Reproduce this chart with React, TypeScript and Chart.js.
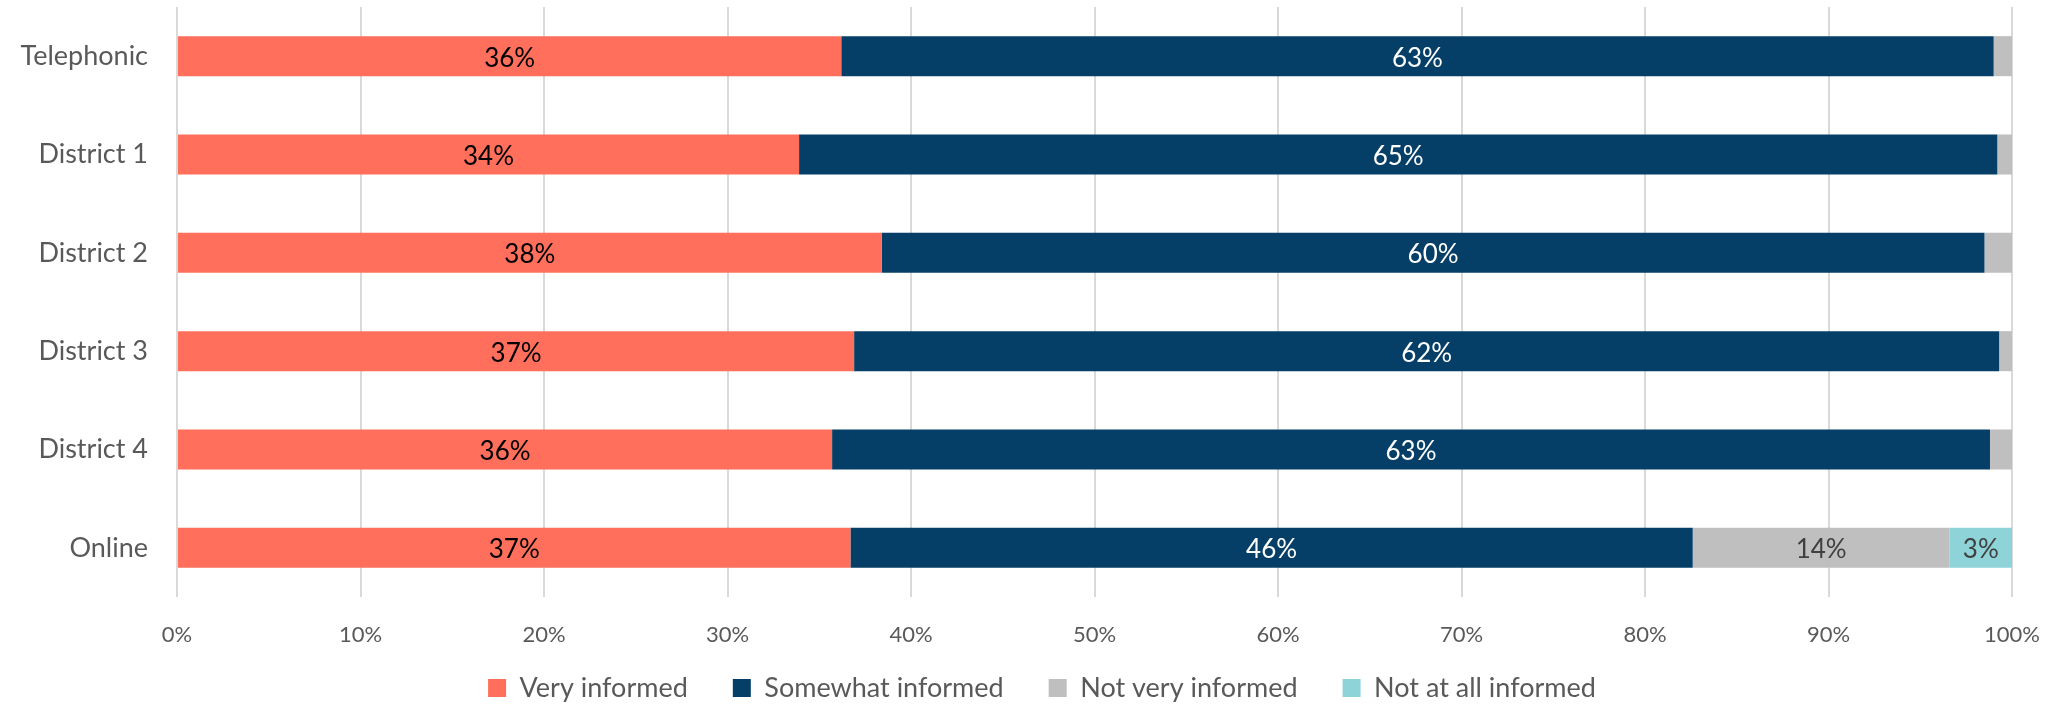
import React, { useEffect, useRef } from "react";
import { Chart, registerables } from "chart.js";

Chart.register(...registerables);

const categories = ["Telephonic", "District 1", "District 2", "District 3", "District 4", "Online"];
const seriesNames = ["Very informed", "Somewhat informed", "Not very informed", "Not at all informed"];
const veryInformed = [36.2, 33.9, 38.4, 36.9, 35.7, 36.7];
const somewhatInformed = [62.8, 65.3, 60.1, 62.4, 63.1, 45.9];
const notVeryInformed = [1.0, 0.8, 1.5, 0.7, 1.2, 14.0];
const notAtAllInformed = [0, 0, 0, 0, 0, 3.4];
const xTicks = [0, 10, 20, 30, 40, 50, 60, 70, 80, 90, 100];

const colors = ["#FF6F5B", "#053F67", "#BFBFBF", "#8DD3D8"];
const labelColors = ["#000000", "#FFFFFF", "#404040", "#404040"];
const FONT = "Lato, 'Open Sans', sans-serif";
const LEGEND_PAD = 45;
const LEGEND_FONT = 27;

const segLabels = {
  id: "segLabels",
  afterDatasetsDraw(chart: any) {
    const ctx = chart.ctx;
    chart.data.datasets.forEach((ds: any, di: number) => {
      const meta = chart.getDatasetMeta(di);
      if (meta.hidden) return;
      meta.data.forEach((bar: any, i: number) => {
        const v = ds.data[i];
        if (v < 2) return;
        const p = bar.getProps(["x", "y", "base"], true);
        ctx.save();
        ctx.font = `26px ${FONT}`;
        ctx.fillStyle = labelColors[di];
        ctx.textAlign = "center";
        ctx.textBaseline = "middle";
        ctx.fillText(Math.round(v) + "%", (p.x + p.base) / 2, p.y + 2);
        ctx.restore();
      });
    });
  },
};

// place legend row: centred under the full figure, 91px below the plot area
const legendPlace = {
  id: "legendPlace",
  afterLayout(chart: any) {
    const lg = chart.legend;
    if (!lg) return;
    lg.left += 36;
    lg.right += 36;
    const itemH = LEGEND_FONT;
    lg.top = chart.chartArea.bottom + 91 - itemH / 2 - LEGEND_PAD;
    lg.bottom = chart.height;
    lg.height = lg.bottom - lg.top;
  },
};

export default function App() {
  const ref = useRef<HTMLCanvasElement | null>(null);
  useEffect(() => {
    document.body.style.margin = "0";
    const chart = new Chart(ref.current as HTMLCanvasElement, {
      type: "bar",
      data: {
        labels: categories,
        datasets: [veryInformed, somewhatInformed, notVeryInformed, notAtAllInformed].map((d, i) => ({
          label: seriesNames[i],
          data: d,
          backgroundColor: colors[i],
          borderWidth: 0,
          barPercentage: 0.407,
          categoryPercentage: 1,
        })),
      },
      options: {
        indexAxis: "y",
        animation: false,
        responsive: true,
        maintainAspectRatio: false,
        layout: { padding: { top: 7, right: 47, left: 0, bottom: 0 } },
        plugins: {
          tooltip: { enabled: false },
          legend: {
            position: "bottom",
            maxHeight: 50,
            labels: {
              boxWidth: 18,
              boxHeight: 18,
              padding: LEGEND_PAD,
              color: "#595959",
              font: { family: FONT, size: LEGEND_FONT },
            },
          },
        },
        scales: {
          x: {
            stacked: true,
            min: 0,
            max: 100,
            afterBuildTicks: (scale: any) => {
              scale.ticks = xTicks.map((v) => ({ value: v }));
            },
            afterFit: (scale: any) => {
              scale.height = 60;
              scale.paddingLeft = 0;
              scale.paddingRight = 0;
            },
            ticks: {
              padding: 25,
              color: "#595959",
              font: { family: FONT, size: 22 },
              callback: (v: any) => v + "%",
            },
            grid: { color: "#D9D9D9", lineWidth: 2, drawTicks: false },
            border: { display: false },
          },
          y: {
            stacked: true,
            afterFit: (scale: any) => {
              scale.width = 177;
              scale.paddingTop = 0;
              scale.paddingBottom = 0;
            },
            ticks: {
              padding: 0,
              color: "#595959",
              font: { family: FONT, size: 27 },
            },
            grid: {
              display: true,
              drawOnChartArea: false,
              drawTicks: true,
              tickLength: 29,
              color: "rgba(0,0,0,0)",
            },
            border: { display: false },
          },
        },
      },
      plugins: [segLabels, legendPlace],
    });
    return () => chart.destroy();
  }, []);
  return (
    <div style={{ width: "2059px", height: "707px", position: "relative" }}>
      <canvas ref={ref} />
    </div>
  );
}
